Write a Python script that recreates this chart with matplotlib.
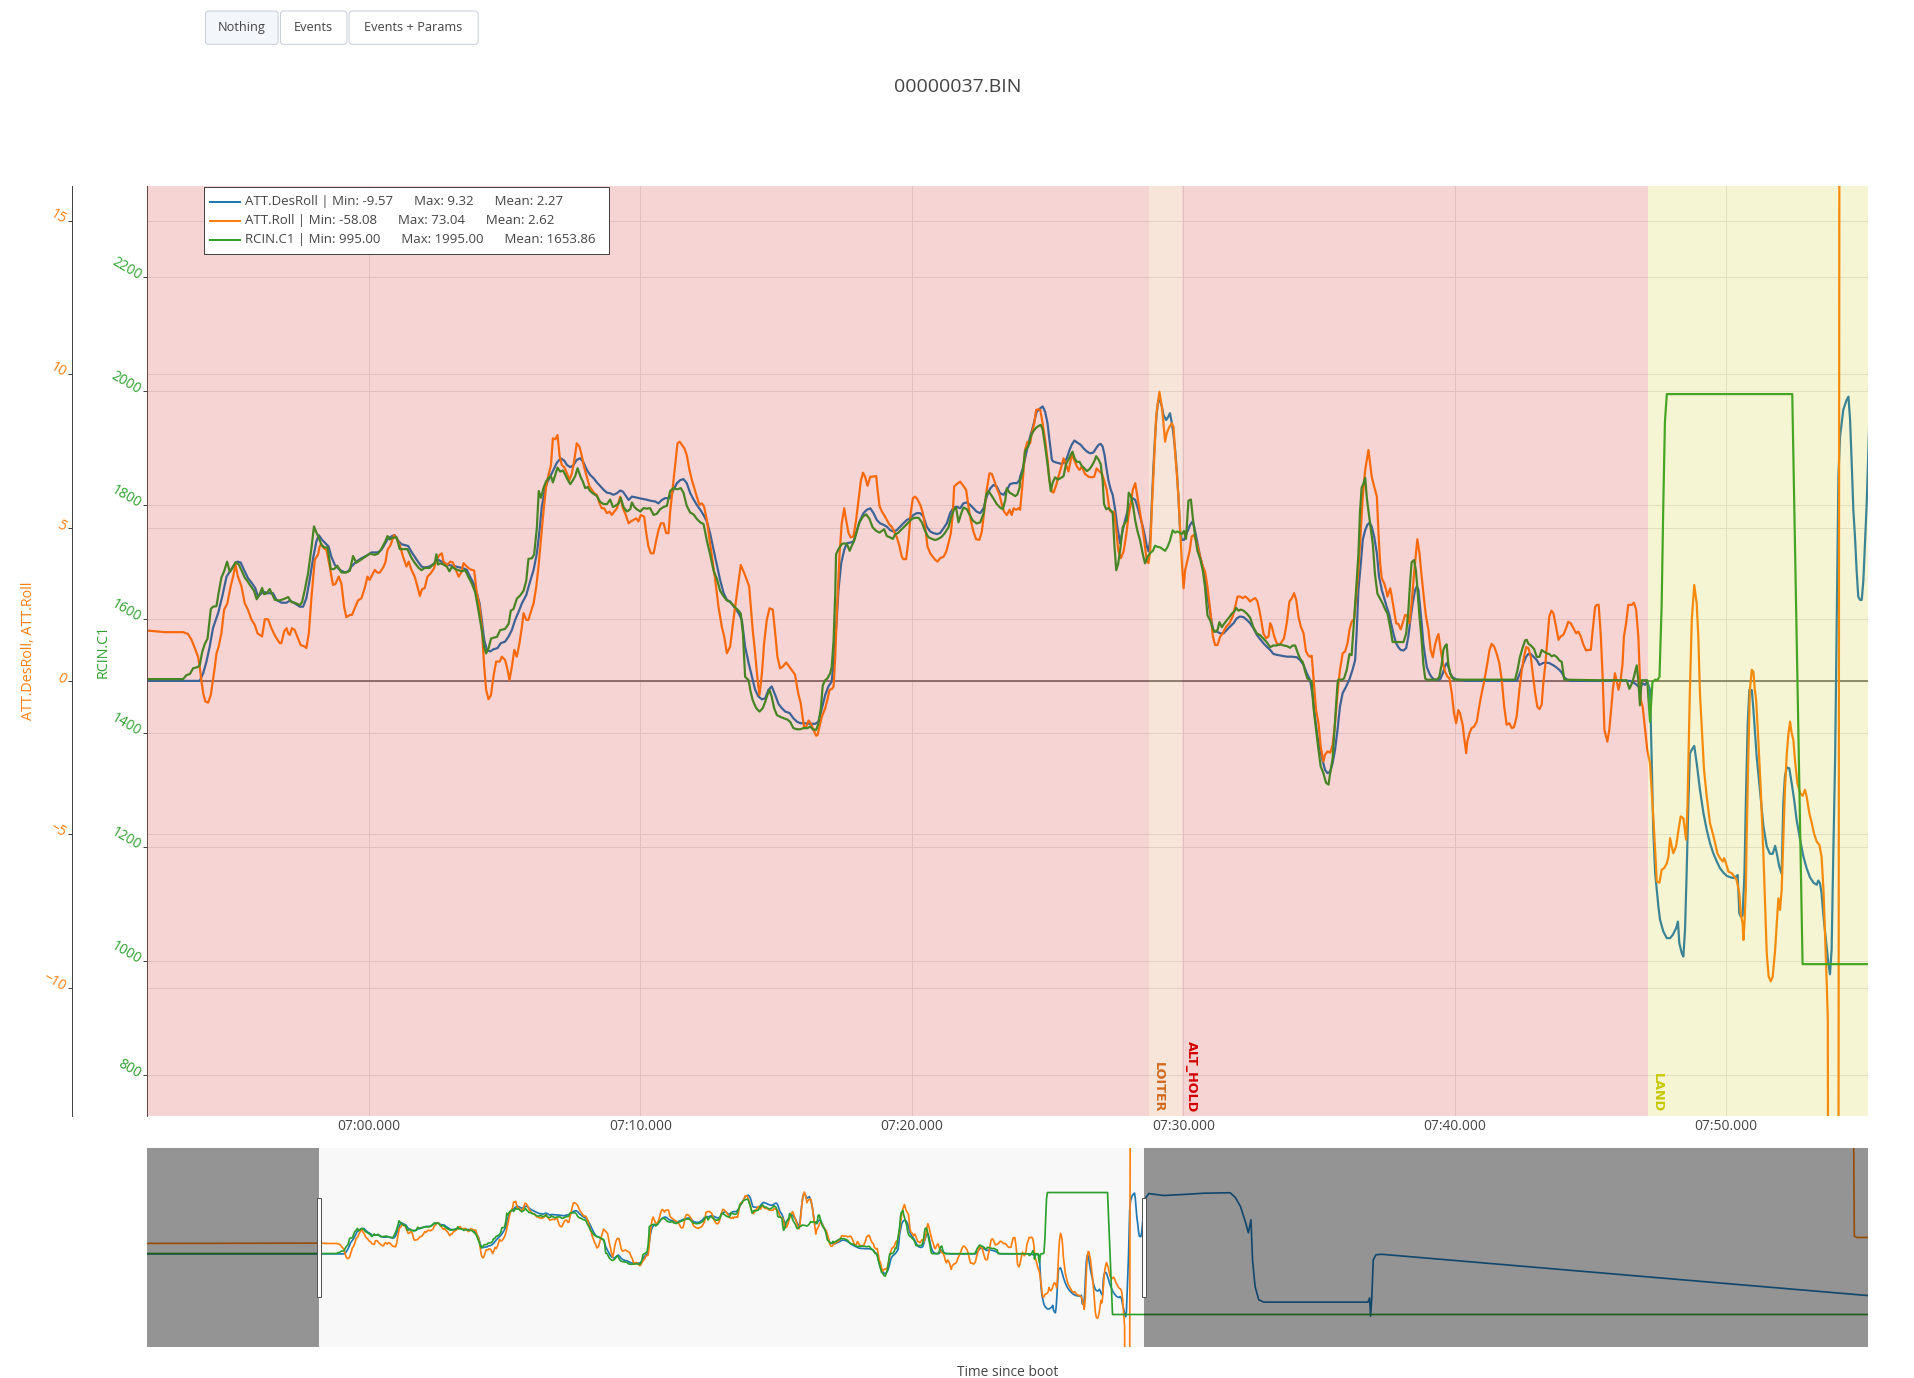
import matplotlib
matplotlib.use("Agg")
import matplotlib.pyplot as plt
import matplotlib.transforms as mtransforms
from matplotlib.lines import Line2D
from matplotlib.patches import Rectangle, FancyBboxPatch
from matplotlib.ticker import FuncFormatter

plt.rcParams['font.family'] = ['Open Sans', 'DejaVu Sans']

# ---------------- data (time since boot in s) ----------------
DES_ROLL_POINTS = [
    (398.61, 0.0), (411.87, 0.0), (413.77, 0.0), (413.90, 0.25), (414.02, 0.63), (414.14, 1.12), (414.26, 1.72),
    (414.45, 2.21), (414.60, 2.75), (414.76, 3.40), (414.88, 3.57), (415.04, 3.78), (415.16, 3.89), (415.28, 3.86),
    (415.43, 3.57), (415.55, 3.35), (415.70, 3.18), (415.82, 3.02), (415.92, 2.75), (416.11, 2.91), (416.29, 2.86),
    (416.47, 2.86), (416.60, 2.64), (416.78, 2.55), (416.97, 2.55), (417.09, 2.62), (417.27, 2.53), (417.46, 2.42),
    (417.58, 2.42), (417.70, 2.70), (417.82, 3.29), (417.95, 4.01), (418.07, 4.55), (418.16, 4.75), (418.28, 4.60),
    (418.40, 4.49), (418.52, 4.38), (418.62, 4.05), (418.75, 3.78), (418.93, 3.62), (419.11, 3.54), (419.24, 3.57),
    (419.36, 3.73), (419.54, 3.89), (419.73, 4.00), (419.91, 4.08), (420.10, 4.19), (420.32, 4.19), (420.46, 4.27),
    (420.59, 4.46), (420.71, 4.65), (420.83, 4.71), (420.95, 4.76), (421.08, 4.57), (421.20, 4.46), (421.32, 4.43),
    (421.45, 4.40), (421.57, 4.21), (421.69, 4.05), (421.81, 3.89), (421.94, 3.73), (422.06, 3.70), (422.24, 3.73),
    (422.43, 3.84), (422.55, 3.95), (422.75, 3.86), (422.94, 3.78), (423.12, 3.75), (423.31, 3.71), (423.49, 3.67),
    (423.61, 3.62), (423.73, 3.40), (423.86, 3.18), (423.98, 2.86), (424.08, 2.53), (424.16, 1.99), (424.25, 1.34),
    (424.35, 1.01), (424.47, 0.96), (424.59, 1.03), (424.74, 1.07), (424.86, 1.23), (425.02, 1.28), (425.15, 1.45),
    (425.27, 1.66), (425.39, 1.99), (425.52, 2.26), (425.64, 2.53), (425.80, 2.80), (425.94, 3.24), (426.07, 3.62),
    (426.19, 4.16), (426.29, 4.92), (426.37, 5.68), (426.46, 6.12), (426.56, 6.45), (426.68, 6.66), (426.80, 6.88),
    (426.93, 7.12), (427.07, 7.26), (427.20, 7.18), (427.30, 7.04), (427.42, 6.97), (427.54, 7.04), (427.66, 7.21),
    (427.79, 7.26), (427.91, 7.12), (428.03, 6.88), (428.15, 6.72), (428.28, 6.61), (428.40, 6.47), (428.52, 6.36),
    (428.65, 6.23), (428.77, 6.14), (428.89, 6.12), (429.01, 6.07), (429.14, 6.12), (429.26, 6.21), (429.36, 6.17),
    (429.44, 6.07), (429.57, 5.90), (429.69, 6.01), (429.81, 5.99), (430.00, 5.95), (430.18, 5.92), (430.36, 5.88),
    (430.55, 5.85), (430.67, 5.79), (430.79, 5.90), (430.92, 5.96), (431.10, 5.96), (431.22, 6.23), (431.35, 6.45),
    (431.47, 6.55), (431.59, 6.58), (431.71, 6.45), (431.84, 6.12), (431.96, 5.92), (432.08, 5.74), (432.21, 5.58),
    (432.33, 5.41), (432.45, 5.20), (432.57, 4.82), (432.70, 4.27), (432.82, 3.78), (432.94, 3.29), (433.07, 2.86),
    (433.19, 2.64), (433.31, 2.59), (433.49, 2.37), (433.62, 2.21), (433.74, 1.99), (433.86, 1.12), (433.99, 0.58),
    (434.11, 0.14), (434.23, -0.29), (434.35, -0.51), (434.48, -0.60), (434.60, -0.57), (434.72, -0.29), (434.84, -0.18),
    (434.97, -0.46), (435.09, -0.75), (435.21, -0.89), (435.34, -1.00), (435.50, -1.05), (435.64, -1.22), (435.77, -1.33),
    (435.89, -1.38), (436.07, -1.38), (436.26, -1.40), (436.44, -1.40), (436.56, -1.33), (436.69, -0.89), (436.81, -0.46),
    (436.93, -0.18), (437.05, -0.02), (437.14, 0.79), (437.21, 1.66), (437.30, 2.97), (437.40, 3.84), (437.51, 4.27),
    (437.61, 4.49), (437.73, 4.51), (437.85, 4.54), (437.98, 4.92), (438.10, 5.25), (438.22, 5.47), (438.34, 5.58),
    (438.47, 5.63), (438.59, 5.47), (438.71, 5.25), (438.83, 5.14), (438.96, 5.09), (439.08, 5.03), (439.20, 4.92),
    (439.33, 4.87), (439.45, 4.92), (439.57, 5.03), (439.69, 5.14), (439.82, 5.25), (439.94, 5.30), (440.06, 5.41),
    (440.18, 5.47), (440.31, 5.47), (440.43, 5.36), (440.55, 5.03), (440.68, 4.87), (440.80, 4.82), (440.92, 4.79),
    (441.04, 4.82), (441.17, 4.98), (441.29, 5.14), (441.41, 5.47), (441.54, 5.66), (441.66, 5.68), (441.78, 5.63),
    (441.90, 5.79), (442.03, 5.82), (442.15, 5.74), (442.27, 5.63), (442.39, 5.52), (442.52, 5.47), (442.64, 5.63),
    (442.76, 6.01), (442.89, 6.28), (443.01, 6.39), (443.13, 6.34), (443.25, 6.12), (443.38, 6.07), (443.50, 6.23),
    (443.62, 6.42), (443.75, 6.45), (443.87, 6.45), (443.97, 6.55), (443.99, 6.66), (444.11, 6.99), (444.24, 7.53),
    (444.36, 7.97), (444.48, 8.35), (444.60, 8.78), (444.73, 8.89), (444.82, 8.95), (444.91, 8.78), (445.00, 8.40),
    (445.07, 7.86), (445.16, 7.21), (445.22, 7.15), (445.34, 7.12), (445.49, 7.08), (445.59, 7.10), (445.71, 7.26),
    (445.81, 7.53), (445.89, 7.70), (445.99, 7.84), (446.10, 7.77), (446.22, 7.70), (446.32, 7.59), (446.45, 7.48),
    (446.57, 7.42), (446.69, 7.45), (446.79, 7.59), (446.88, 7.70), (446.96, 7.73), (447.03, 7.64), (447.10, 7.37),
    (447.16, 6.99), (447.24, 6.55), (447.33, 6.23), (447.40, 6.07), (447.49, 5.58), (447.57, 5.03), (447.67, 4.49),
    (447.77, 4.92), (447.86, 5.25), (447.94, 5.52), (448.04, 5.74), (448.14, 5.96), (448.23, 5.90), (448.31, 5.68),
    (448.41, 5.36), (448.51, 5.03), (448.59, 4.71), (448.66, 4.38), (448.72, 4.22), (448.78, 4.60), (448.84, 5.79),
    (448.90, 6.99), (448.96, 7.97), (449.02, 8.73), (449.08, 9.16), (449.15, 9.11), (449.21, 8.95), (449.27, 8.67),
    (449.37, 8.51), (449.45, 8.62), (449.51, 8.73), (449.58, 8.40), (449.64, 8.02), (449.70, 7.53), (449.76, 6.88),
    (449.82, 6.01), (449.88, 4.92), (449.94, 4.60), (450.03, 4.60), (450.13, 4.82), (450.25, 5.09), (450.34, 5.20),
    (450.40, 5.03), (450.50, 4.60), (450.62, 4.05), (450.72, 3.73), (450.80, 3.40), (450.89, 2.75), (450.99, 2.21),
    (451.11, 1.61), (451.23, 1.61), (451.36, 1.55), (451.48, 1.55), (451.60, 1.66), (451.72, 1.77), (451.85, 1.88),
    (451.97, 2.04), (452.09, 2.10), (452.22, 2.08), (452.34, 1.99), (452.46, 1.88), (452.58, 1.72), (452.71, 1.50),
    (452.83, 1.36), (452.95, 1.23), (453.07, 1.12), (453.20, 1.01), (453.32, 0.88), (453.44, 0.85), (453.63, 0.82),
    (453.81, 0.79), (454.00, 0.79), (454.18, 0.77), (454.30, 0.68), (454.43, 0.52), (454.55, 0.25), (454.67, 0.03),
    (454.77, -0.51), (454.85, -1.16), (454.94, -1.82), (455.04, -2.25), (455.14, -2.63), (455.22, -2.90), (455.31, -3.01),
    (455.41, -2.96), (455.50, -2.68), (455.59, -2.25), (455.68, -1.60), (455.77, -0.84), (455.87, -0.40), (456.00, -0.18),
    (456.12, 0.05), (456.24, 0.38), (456.33, 0.68), (456.39, 1.66), (456.45, 2.97), (456.54, 3.84), (456.61, 4.60),
    (456.70, 4.92), (456.78, 5.09), (456.86, 5.16), (456.94, 5.03), (457.03, 4.71), (457.13, 4.16), (457.21, 3.40),
    (457.31, 2.97), (457.40, 2.70), (457.49, 2.42), (457.59, 2.15), (457.68, 1.77), (457.76, 1.47), (457.84, 1.23),
    (457.92, 1.10), (458.01, 1.01), (458.11, 0.99), (458.21, 1.07), (458.29, 1.45), (458.38, 2.10), (458.45, 2.53),
    (458.54, 2.97), (458.60, 3.08), (458.66, 2.97), (458.72, 2.42), (458.78, 1.88), (458.84, 1.23), (458.91, 0.79),
    (458.97, 0.45), (459.07, 0.23), (459.15, 0.12), (459.24, 0.05), (459.34, 0.03), (459.46, 0.05), (459.56, 0.25),
    (459.64, 0.49), (459.70, 0.58), (459.76, 0.47), (459.83, 0.25), (459.92, 0.12), (460.05, 0.05), (460.19, 0.03),
    (460.44, 0.0), (462.28, 0.0), (462.40, 0.25), (462.53, 0.58), (462.63, 0.79), (462.71, 0.88), (462.80, 0.88),
    (462.90, 0.79), (463.02, 0.68), (463.12, 0.52), (463.24, 0.58), (463.36, 0.60), (463.48, 0.58), (463.61, 0.52),
    (463.73, 0.45), (463.85, 0.36), (463.94, 0.27), (464.03, 0.12), (464.12, 0.05), (464.25, 0.0), (466.45, 0.0),
    (466.58, -0.05), (466.70, -0.13), (466.82, -0.24), (466.92, -0.08), (467.01, -0.13), (467.09, -0.02), (467.19, -0.29),
    (467.25, -2.47), (467.31, -4.86), (467.38, -6.27), (467.44, -6.82), (467.50, -7.36), (467.56, -7.79), (467.68, -8.17),
    (467.81, -8.39), (467.93, -8.39), (468.03, -8.28), (468.15, -8.07), (468.22, -7.85), (468.27, -8.55), (468.36, -8.88),
    (468.42, -8.99), (468.48, -8.12), (468.54, -6.27), (468.60, -4.10), (468.66, -2.36), (468.76, -2.20), (468.82, -2.12),
    (468.91, -2.68), (469.03, -3.55), (469.16, -4.32), (469.28, -4.86), (469.40, -5.29), (469.52, -5.62), (469.65, -5.89),
    (469.77, -6.11), (469.89, -6.25), (470.02, -6.36), (470.14, -6.40), (470.26, -6.43), (470.36, -6.38), (470.42, -6.33),
    (470.48, -7.58), (470.53, -7.68), (470.60, -7.66), (470.67, -6.27), (470.73, -3.55), (470.79, -1.38), (470.85, -0.29),
    (470.94, -0.30), (471.00, -0.95), (471.12, -2.47), (471.24, -3.55), (471.37, -4.75), (471.49, -5.40), (471.61, -5.64),
    (471.71, -5.64), (471.80, -5.38), (471.86, -5.62), (471.95, -6.05), (472.04, -6.29), (472.10, -3.99), (472.16, -3.12),
    (472.23, -2.82), (472.32, -2.85), (472.41, -3.34), (472.50, -3.88), (472.59, -4.53), (472.72, -5.18), (472.84, -5.73),
    (472.96, -6.11), (473.08, -6.40), (473.21, -6.58), (473.33, -6.65), (473.39, -6.51), (473.45, -6.60), (473.51, -6.92),
    (473.58, -7.68), (473.67, -8.45), (473.76, -9.21), (473.82, -9.57), (473.88, -8.77), (473.94, -5.73), (474.01, -2.47),
    (474.04, -0.29), (474.09, 3.62), (474.13, 6.66), (474.19, 7.97), (474.31, 8.84), (474.43, 9.16), (474.50, 9.27),
    (474.56, 8.51), (474.62, 7.10), (474.68, 5.58), (474.74, 4.71), (474.80, 3.62), (474.86, 2.75), (474.93, 2.64),
    (474.99, 2.64), (475.05, 3.29), (475.11, 4.49), (475.17, 5.74), (475.26, 8.27), (475.60, 9.20), (476.73, 8.90),
    (478.65, 9.10), (479.85, 9.25), (481.85, 9.32), (482.25, 8.60), (482.65, 7.20), (483.05, 4.70), (483.25, 3.20),
    (483.45, 5.20), (483.57, -0.90), (483.77, -5.00), (484.05, -7.00), (484.45, -7.35), (492.44, -7.35), (492.57, -6.70),
    (492.64, -9.50), (492.73, -7.00), (492.85, -0.90), (493.05, -0.15), (493.45, -0.05), (530.87, -6.35),
]

ROLL_POINTS = [
    (398.61, 1.60), (411.87, 1.64), (412.48, 1.59), (413.16, 1.59), (413.34, 1.53), (413.47, 1.34), (413.59, 1.07),
    (413.71, 0.79), (413.77, 0.47), (413.83, 0.03), (413.90, -0.40), (413.98, -0.67), (414.08, -0.71), (414.18, -0.46),
    (414.26, 0.03), (414.33, 0.47), (414.39, 0.90), (414.47, 1.12), (414.57, 1.55), (414.67, 2.32), (414.79, 2.53),
    (414.91, 3.08), (415.00, 3.40), (415.09, 3.78), (415.18, 3.40), (415.31, 3.08), (415.43, 2.53), (415.55, 2.32),
    (415.68, 1.99), (415.80, 1.83), (415.90, 1.55), (416.07, 1.45), (416.17, 2.01), (416.29, 2.01), (416.41, 1.72),
    (416.56, 1.45), (416.72, 1.23), (416.78, 1.23), (416.88, 1.61), (416.97, 1.72), (417.03, 1.55), (417.09, 1.50),
    (417.17, 1.72), (417.27, 1.66), (417.39, 1.39), (417.49, 1.17), (417.64, 1.12), (417.70, 1.07), (417.79, 1.55),
    (417.89, 2.75), (418.01, 3.95), (418.13, 4.12), (418.19, 4.38), (418.25, 4.47), (418.34, 4.33), (418.44, 4.27),
    (418.56, 3.73), (418.68, 3.13), (418.77, 3.16), (418.89, 3.40), (418.99, 3.18), (419.09, 2.42), (419.17, 2.08),
    (419.30, 2.15), (419.38, 2.15), (419.48, 2.37), (419.60, 2.62), (419.73, 2.70), (419.85, 3.03), (419.95, 3.40),
    (420.03, 3.29), (420.12, 3.45), (420.22, 3.62), (420.32, 3.53), (420.40, 3.53), (420.53, 3.70), (420.61, 3.86),
    (420.69, 4.27), (420.80, 4.43), (420.93, 4.76), (421.02, 4.65), (421.14, 4.43), (421.26, 4.05), (421.39, 3.73),
    (421.47, 3.89), (421.57, 3.62), (421.69, 3.40), (421.79, 3.08), (421.88, 2.77), (421.96, 2.99), (422.06, 3.03),
    (422.16, 3.40), (422.28, 3.51), (422.40, 3.67), (422.49, 3.95), (422.61, 4.11), (422.69, 4.16), (422.75, 3.89),
    (422.88, 3.78), (423.00, 3.89), (423.10, 3.86), (423.18, 3.67), (423.31, 3.40), (423.39, 3.51), (423.49, 3.84),
    (423.61, 3.73), (423.73, 3.64), (423.88, 3.60), (423.98, 2.86), (424.08, 2.42), (424.16, 1.77), (424.25, 0.47),
    (424.32, -0.29), (424.41, -0.60), (424.50, -0.46), (424.59, 0.14), (424.69, 0.63), (424.82, 0.63), (424.90, 0.79),
    (425.02, 0.68), (425.11, 0.36), (425.18, 0.03), (425.27, 0.47), (425.36, 1.01), (425.45, 0.79), (425.55, 1.23),
    (425.64, 1.77), (425.70, 2.21), (425.80, 1.99), (425.88, 1.99), (425.97, 2.26), (426.07, 2.53), (426.17, 3.08),
    (426.25, 3.73), (426.34, 4.60), (426.44, 5.58), (426.53, 6.34), (426.62, 6.72), (426.71, 7.04), (426.78, 7.91),
    (426.87, 7.88), (426.95, 8.02), (427.03, 7.32), (427.11, 7.04), (427.20, 6.97), (427.30, 6.77), (427.39, 6.55),
    (427.48, 6.77), (427.57, 7.21), (427.66, 7.75), (427.76, 7.64), (427.85, 7.32), (427.93, 6.97), (428.03, 6.66),
    (428.13, 6.34), (428.22, 6.23), (428.30, 6.12), (428.40, 6.07), (428.50, 5.79), (428.58, 5.63), (428.67, 5.63),
    (428.77, 5.47), (428.87, 5.52), (428.95, 5.41), (429.04, 5.52), (429.14, 5.63), (429.26, 6.01), (429.36, 5.63),
    (429.44, 5.47), (429.57, 5.14), (429.65, 5.20), (429.75, 5.25), (429.85, 5.30), (429.93, 5.20), (430.02, 5.41),
    (430.14, 5.36), (430.22, 4.82), (430.30, 4.38), (430.39, 4.16), (430.49, 4.16), (430.59, 4.60), (430.67, 4.92),
    (430.76, 5.14), (430.86, 5.14), (430.95, 4.82), (431.04, 4.82), (431.10, 5.52), (431.20, 6.34), (431.29, 7.10),
    (431.37, 7.75), (431.45, 7.80), (431.53, 7.70), (431.62, 7.59), (431.71, 7.37), (431.81, 6.88), (431.90, 6.55),
    (431.99, 6.28), (432.08, 6.01), (432.18, 5.74), (432.27, 5.79), (432.35, 5.68), (432.45, 5.25), (432.55, 4.60),
    (432.64, 4.05), (432.76, 3.29), (432.88, 2.42), (433.00, 1.77), (433.09, 1.45), (433.19, 0.90), (433.31, 1.12),
    (433.43, 1.99), (433.56, 2.86), (433.70, 3.78), (433.83, 3.51), (433.92, 3.29), (434.01, 3.08), (434.07, 2.42),
    (434.14, 1.66), (434.23, 0.90), (434.32, 0.03), (434.39, -0.46), (434.48, 0.25), (434.56, 1.23), (434.66, 1.99),
    (434.76, 2.37), (434.88, 2.32), (434.97, 1.55), (435.05, 0.79), (435.15, 0.41), (435.25, 0.47), (435.37, 0.60),
    (435.50, 0.45), (435.62, 0.30), (435.70, 0.20), (435.77, -0.18), (435.83, -0.46), (435.91, -0.73), (435.99, -1.27),
    (436.04, -1.54), (436.11, -1.49), (436.20, -1.29), (436.28, -1.38), (436.38, -1.60), (436.48, -1.79), (436.53, -1.76),
    (436.60, -1.49), (436.69, -1.16), (436.81, -0.89), (436.89, -0.62), (436.97, -0.29), (437.05, -0.27), (437.12, -0.18),
    (437.18, 0.79), (437.24, 2.21), (437.34, 4.16), (437.42, 5.14), (437.51, 5.63), (437.58, 5.25), (437.67, 4.82),
    (437.75, 4.68), (437.85, 4.71), (437.95, 5.25), (438.04, 5.90), (438.12, 6.50), (438.20, 6.79), (438.28, 6.66),
    (438.37, 6.36), (438.47, 6.66), (438.56, 6.66), (438.69, 6.68), (438.74, 6.23), (438.81, 5.71), (438.90, 5.52),
    (438.98, 5.41), (439.08, 5.25), (439.18, 5.09), (439.26, 5.03), (439.35, 4.87), (439.45, 4.68), (439.55, 4.38),
    (439.63, 4.05), (439.69, 3.97), (439.79, 3.97), (439.88, 4.60), (439.96, 5.47), (440.04, 5.96), (440.12, 6.01),
    (440.21, 5.92), (440.31, 5.74), (440.41, 5.47), (440.49, 5.03), (440.58, 4.38), (440.68, 4.16), (440.77, 4.05),
    (440.86, 3.95), (440.95, 3.89), (441.04, 4.00), (441.17, 4.05), (441.27, 4.22), (441.35, 4.49), (441.44, 4.82),
    (441.51, 5.47), (441.56, 6.34), (441.66, 6.42), (441.78, 6.50), (441.90, 6.36), (442.00, 6.23), (442.09, 5.68),
    (442.17, 5.25), (442.27, 4.87), (442.37, 4.62), (442.49, 4.60), (442.58, 4.87), (442.66, 5.47), (442.76, 6.23),
    (442.86, 6.77), (442.95, 6.75), (443.03, 6.55), (443.13, 6.28), (443.23, 6.07), (443.32, 5.74), (443.40, 5.52),
    (443.50, 5.41), (443.60, 5.58), (443.68, 5.41), (443.75, 5.63), (443.84, 5.58), (443.93, 5.63), (443.99, 5.58),
    (444.09, 6.55), (444.17, 7.53), (444.26, 7.80), (444.36, 7.75), (444.42, 8.08), (444.51, 8.40), (444.58, 8.84),
    (444.67, 8.86), (444.73, 8.84), (444.82, 8.40), (444.91, 7.86), (445.00, 7.21), (445.07, 6.55), (445.16, 6.17),
    (445.22, 6.14), (445.32, 6.39), (445.40, 6.66), (445.49, 6.93), (445.59, 7.26), (445.68, 7.04), (445.77, 6.83),
    (445.83, 7.10), (445.89, 7.37), (445.98, 7.21), (446.08, 6.99), (446.18, 6.88), (446.26, 6.99), (446.38, 6.75),
    (446.51, 6.66), (446.63, 6.64), (446.72, 6.66), (446.81, 6.93), (446.91, 6.83), (447.00, 6.77), (447.08, 6.55),
    (447.18, 6.23), (447.28, 5.58), (447.37, 5.49), (447.45, 5.52), (447.53, 4.92), (447.61, 4.22), (447.70, 4.00),
    (447.80, 4.22), (447.89, 4.71), (447.98, 5.36), (448.07, 5.79), (448.14, 6.23), (448.23, 6.45), (448.31, 6.01),
    (448.41, 5.47), (448.51, 4.92), (448.59, 4.38), (448.66, 3.89), (448.72, 3.84), (448.78, 4.22), (448.84, 5.58),
    (448.93, 7.32), (449.00, 8.62), (449.06, 9.05), (449.12, 9.43), (449.21, 8.95), (449.27, 8.40), (449.33, 7.80),
    (449.39, 8.08), (449.49, 8.29), (449.58, 8.40), (449.64, 8.29), (449.70, 7.42), (449.76, 6.77), (449.82, 6.01),
    (449.88, 5.03), (449.94, 3.95), (450.01, 3.02), (450.07, 3.62), (450.13, 3.84), (450.23, 4.22), (450.31, 4.71),
    (450.40, 4.76), (450.50, 4.49), (450.62, 4.05), (450.72, 3.73), (450.80, 3.57), (450.89, 3.08), (450.99, 2.32),
    (451.09, 1.45), (451.17, 1.17), (451.26, 1.17), (451.36, 1.45), (451.45, 1.55), (451.58, 1.77), (451.70, 1.88),
    (451.82, 2.10), (451.91, 2.42), (452.00, 2.75), (452.09, 2.75), (452.19, 2.70), (452.28, 2.75), (452.36, 2.70),
    (452.46, 2.59), (452.56, 2.66), (452.65, 2.70), (452.73, 2.59), (452.80, 2.32), (452.89, 1.88), (452.95, 1.55),
    (453.05, 1.39), (453.14, 1.45), (453.20, 1.88), (453.26, 1.77), (453.35, 1.45), (453.44, 1.23), (453.54, 1.17),
    (453.63, 1.28), (453.71, 1.39), (453.81, 1.88), (453.91, 2.59), (454.00, 2.70), (454.08, 2.86), (454.16, 2.64),
    (454.24, 2.10), (454.33, 1.77), (454.43, 1.55), (454.52, 0.96), (454.61, 0.82), (454.67, 0.79), (454.73, 0.82),
    (454.79, 0.14), (454.89, -0.95), (454.98, -1.38), (455.06, -2.14), (455.16, -2.63), (455.22, -2.41), (455.31, -2.30),
    (455.41, -2.34), (455.50, -2.09), (455.59, -1.38), (455.68, -0.40), (455.77, 0.36), (455.87, 0.90), (455.96, 0.96),
    (456.05, 1.23), (456.12, 1.66), (456.20, 1.93), (456.29, 2.01), (456.36, 2.64), (456.45, 3.62), (456.54, 4.92),
    (456.61, 6.01), (456.70, 6.88), (456.76, 7.21), (456.82, 7.53), (456.88, 7.10), (456.94, 6.66), (457.03, 6.34),
    (457.13, 6.01), (457.19, 4.82), (457.25, 3.84), (457.31, 3.35), (457.40, 3.18), (457.47, 2.97), (457.52, 2.75),
    (457.62, 3.02), (457.68, 2.75), (457.76, 2.32), (457.84, 1.88), (457.92, 1.86), (458.01, 1.68), (458.08, 1.88),
    (458.17, 2.15), (458.25, 2.12), (458.33, 1.88), (458.41, 2.53), (458.50, 3.51), (458.57, 4.16), (458.62, 4.62),
    (458.70, 4.16), (458.78, 3.40), (458.87, 2.64), (458.94, 2.10), (459.03, 1.66), (459.11, 1.01), (459.19, 0.77),
    (459.27, 1.17), (459.34, 1.39), (459.40, 1.53), (459.48, 1.01), (459.56, 0.58), (459.64, 0.30), (459.73, 0.14),
    (459.80, 0.09), (459.89, -0.40), (459.97, -1.05), (460.05, -1.38), (460.13, -0.95), (460.19, -1.05), (460.29, -1.43),
    (460.34, -1.82), (460.42, -2.36), (460.46, -1.98), (460.54, -1.71), (460.62, -1.54), (460.71, -1.49), (460.81, -1.33),
    (460.91, -0.78), (460.99, -0.40), (461.08, -0.02), (461.18, 0.47), (461.28, 1.01), (461.36, 1.21), (461.45, 1.12),
    (461.54, 0.90), (461.64, 0.58), (461.73, 0.03), (461.82, -0.84), (461.91, -1.43), (462.01, -1.38), (462.10, -1.54),
    (462.18, -1.51), (462.28, -1.16), (462.38, -0.29), (462.47, 0.36), (462.55, 0.79), (462.63, 1.10), (462.71, 1.07),
    (462.80, 0.79), (462.87, 0.25), (462.96, -0.40), (463.04, -0.84), (463.12, -0.92), (463.20, -0.78), (463.26, -0.08),
    (463.34, 0.58), (463.41, 1.34), (463.48, 2.10), (463.56, 2.29), (463.63, 2.21), (463.73, 1.77), (463.82, 1.34),
    (463.90, 1.45), (464.00, 1.50), (464.10, 1.72), (464.18, 1.93), (464.27, 1.88), (464.37, 1.72), (464.47, 1.55),
    (464.55, 1.61), (464.64, 1.45), (464.74, 1.17), (464.84, 0.99), (464.92, 1.01), (465.01, 1.01), (465.08, 1.66),
    (465.17, 2.42), (465.23, 2.48), (465.30, 2.48), (465.38, 1.45), (465.45, 0.03), (465.51, -1.60), (465.62, -1.98),
    (465.69, -1.60), (465.78, -0.73), (465.82, -0.29), (465.90, 0.25), (466.03, -0.29), (466.11, 0.03), (466.18, 0.57),
    (466.23, 1.45), (466.31, 1.88), (466.39, 2.48), (466.52, 2.48), (466.60, 2.55), (466.68, 2.32), (466.76, 1.45),
    (466.85, -0.62), (466.92, -0.84), (467.01, -1.60), (467.09, -2.25), (467.19, -2.68), (467.29, -4.10), (467.38, -5.51),
    (467.44, -6.54), (467.54, -6.58), (467.62, -6.16), (467.71, -6.11), (467.81, -5.95), (467.87, -5.73), (467.93, -5.13),
    (467.99, -5.40), (468.05, -5.62), (468.15, -5.40), (468.24, -4.86), (468.32, -4.42), (468.42, -4.48), (468.52, -5.18),
    (468.57, -4.10), (468.62, -1.92), (468.66, -0.29), (468.73, 1.99), (468.82, 3.13), (468.91, 2.53), (468.97, 1.45),
    (469.03, -0.40), (469.09, -1.38), (469.18, -2.90), (469.28, -3.77), (469.40, -4.64), (469.50, -4.97), (469.59, -5.29),
    (469.67, -5.62), (469.77, -5.78), (469.87, -5.89), (469.92, -5.78), (469.99, -5.95), (470.08, -6.22), (470.20, -6.27),
    (470.29, -6.38), (470.38, -6.49), (470.48, -6.92), (470.53, -7.58), (470.60, -7.90), (470.63, -8.45), (470.67, -7.90),
    (470.72, -6.82), (470.75, -5.18), (470.81, -2.47), (470.87, -0.29), (470.94, 0.36), (471.00, 0.30), (471.05, -0.29),
    (471.10, -0.62), (471.18, -1.92), (471.27, -3.55), (471.37, -5.73), (471.43, -7.36), (471.49, -8.88), (471.56, -9.64),
    (471.64, -9.80), (471.71, -9.64), (471.80, -8.77), (471.86, -7.90), (471.92, -7.09), (471.98, -7.47), (472.04, -6.82),
    (472.10, -5.18), (472.16, -3.55), (472.23, -2.36), (472.29, -1.71), (472.35, -1.33), (472.41, -1.71), (472.47, -1.92),
    (472.53, -2.58), (472.62, -3.34), (472.72, -3.66), (472.81, -3.75), (472.90, -3.55), (472.96, -3.77), (473.06, -4.32),
    (473.15, -4.64), (473.23, -4.97), (473.33, -5.24), (473.43, -5.35), (473.51, -5.73), (473.58, -6.82), (473.64, -8.34),
    (473.70, -9.86), (473.74, -11.05), (473.82, -58.08), (474.10, -50.00), (474.22, 73.04), (500.00, 65.00),
    (529.62, 60.00), (529.82, 2.70), (530.02, 2.50), (530.87, 2.50),
]

RCIN_C1_POINTS = [
    (398.61, 1495), (411.87, 1495), (413.16, 1495), (413.28, 1502), (413.41, 1504), (413.53, 1514), (413.69, 1516),
    (413.77, 1519), (413.86, 1542), (413.96, 1557), (414.06, 1566), (414.18, 1618), (414.26, 1622), (414.39, 1623),
    (414.47, 1647), (414.57, 1673), (414.67, 1684), (414.78, 1701), (414.88, 1683), (414.98, 1690), (415.09, 1700),
    (415.21, 1696), (415.33, 1684), (415.43, 1673), (415.53, 1667), (415.61, 1661), (415.77, 1650), (415.87, 1635),
    (415.98, 1644), (416.07, 1655), (416.14, 1644), (416.23, 1645), (416.35, 1653), (416.44, 1644), (416.54, 1634),
    (416.72, 1633), (416.90, 1636), (417.03, 1639), (417.15, 1630), (417.27, 1629), (417.46, 1625), (417.54, 1630),
    (417.64, 1651), (417.76, 1680), (417.89, 1726), (417.98, 1763), (418.07, 1752), (418.16, 1743), (418.25, 1731),
    (418.35, 1726), (418.48, 1726), (418.60, 1688), (418.72, 1688), (418.84, 1694), (418.99, 1682), (419.17, 1682),
    (419.30, 1685), (419.42, 1711), (419.54, 1699), (419.73, 1705), (419.91, 1711), (420.03, 1715), (420.22, 1713),
    (420.34, 1715), (420.46, 1723), (420.61, 1737), (420.69, 1746), (420.77, 1740), (420.89, 1743), (421.02, 1744),
    (421.14, 1723), (421.32, 1723), (421.42, 1723), (421.57, 1708), (421.69, 1699), (421.84, 1690), (421.94, 1686),
    (422.06, 1690), (422.24, 1690), (422.43, 1699), (422.49, 1714), (422.55, 1696), (422.63, 1698), (422.75, 1696),
    (422.88, 1692), (422.97, 1684), (423.06, 1692), (423.18, 1688), (423.31, 1686), (423.43, 1684), (423.55, 1686),
    (423.67, 1674), (423.80, 1662), (423.92, 1647), (424.04, 1615), (424.16, 1581), (424.25, 1551), (424.32, 1540),
    (424.41, 1549), (424.50, 1566), (424.62, 1568), (424.72, 1569), (424.84, 1581), (425.02, 1583), (425.15, 1592),
    (425.23, 1615), (425.33, 1618), (425.45, 1636), (425.58, 1642), (425.70, 1650), (425.80, 1668), (425.88, 1706),
    (426.01, 1707), (426.09, 1714), (426.19, 1761), (426.26, 1825), (426.34, 1813), (426.44, 1831), (426.53, 1842),
    (426.62, 1848), (426.71, 1851), (426.78, 1840), (426.87, 1854), (426.95, 1866), (427.05, 1859), (427.15, 1861),
    (427.23, 1854), (427.32, 1845), (427.42, 1837), (427.52, 1844), (427.60, 1851), (427.69, 1865), (427.79, 1851),
    (427.88, 1842), (427.97, 1830), (428.06, 1832), (428.15, 1825), (428.28, 1820), (428.40, 1816), (428.52, 1806),
    (428.65, 1802), (428.77, 1802), (428.89, 1810), (428.99, 1797), (429.08, 1799), (429.20, 1803), (429.28, 1813),
    (429.38, 1797), (429.51, 1789), (429.63, 1793), (429.69, 1805), (429.78, 1797), (429.87, 1793), (430.00, 1789),
    (430.12, 1795), (430.24, 1794), (430.36, 1795), (430.49, 1783), (430.61, 1785), (430.73, 1793), (430.86, 1797),
    (430.98, 1799), (431.10, 1825), (431.22, 1830), (431.37, 1828), (431.49, 1830), (431.59, 1822), (431.71, 1799),
    (431.84, 1787), (431.96, 1784), (432.08, 1776), (432.21, 1770), (432.33, 1767), (432.45, 1738), (432.57, 1714),
    (432.70, 1685), (432.82, 1671), (432.94, 1650), (433.07, 1640), (433.19, 1633), (433.31, 1630), (433.49, 1621),
    (433.62, 1615), (433.70, 1610), (433.78, 1575), (433.86, 1499), (433.99, 1493), (434.05, 1476), (434.14, 1458),
    (434.27, 1444), (434.39, 1438), (434.51, 1444), (434.60, 1455), (434.68, 1467), (434.76, 1476), (434.84, 1464),
    (434.93, 1444), (435.03, 1432), (435.15, 1429), (435.30, 1426), (435.42, 1424), (435.52, 1420), (435.64, 1409),
    (435.77, 1407), (435.89, 1407), (436.01, 1409), (436.16, 1409), (436.26, 1412), (436.35, 1407), (436.48, 1406),
    (436.56, 1417), (436.65, 1444), (436.72, 1484), (436.81, 1493), (436.89, 1496), (436.99, 1505), (437.05, 1516),
    (437.12, 1563), (437.18, 1645), (437.21, 1714), (437.30, 1723), (437.42, 1732), (437.51, 1733), (437.61, 1732),
    (437.71, 1720), (437.79, 1729), (437.88, 1738), (437.98, 1755), (438.07, 1770), (438.20, 1780), (438.32, 1784),
    (438.44, 1776), (438.56, 1761), (438.69, 1755), (438.81, 1752), (438.90, 1755), (438.98, 1758), (439.08, 1746),
    (439.18, 1744), (439.30, 1741), (439.39, 1749), (439.51, 1752), (439.63, 1758), (439.76, 1764), (439.88, 1770),
    (440.00, 1776), (440.12, 1778), (440.25, 1778), (440.37, 1770), (440.49, 1755), (440.61, 1744), (440.74, 1741),
    (440.86, 1739), (440.98, 1741), (441.11, 1745), (441.23, 1752), (441.35, 1761), (441.44, 1778), (441.56, 1793),
    (441.63, 1796), (441.72, 1770), (441.81, 1784), (441.90, 1796), (442.03, 1793), (442.12, 1784), (442.25, 1773),
    (442.39, 1768), (442.52, 1770), (442.64, 1785), (442.74, 1819), (442.82, 1825), (442.91, 1819), (443.03, 1810),
    (443.13, 1802), (443.25, 1796), (443.35, 1793), (443.44, 1808), (443.50, 1830), (443.60, 1822), (443.68, 1820),
    (443.81, 1816), (443.89, 1819), (443.97, 1831), (443.99, 1843), (444.09, 1860), (444.17, 1895), (444.30, 1904),
    (444.38, 1921), (444.48, 1930), (444.58, 1936), (444.67, 1939), (444.75, 1941), (444.82, 1933), (444.91, 1904),
    (445.00, 1872), (445.07, 1843), (445.12, 1825), (445.19, 1840), (445.28, 1849), (445.37, 1845), (445.46, 1847),
    (445.59, 1851), (445.68, 1872), (445.77, 1880), (445.86, 1889), (445.92, 1894), (445.99, 1883), (446.08, 1876),
    (446.18, 1876), (446.26, 1869), (446.35, 1865), (446.45, 1860), (446.54, 1863), (446.63, 1869), (446.72, 1877),
    (446.79, 1886), (446.88, 1880), (446.96, 1872), (447.03, 1843), (447.08, 1802), (447.16, 1793), (447.24, 1795),
    (447.33, 1791), (447.40, 1787), (447.46, 1732), (447.53, 1686), (447.60, 1697), (447.67, 1720), (447.77, 1761),
    (447.86, 1770), (447.92, 1773), (447.99, 1822), (448.07, 1816), (448.14, 1802), (448.23, 1773), (448.31, 1755),
    (448.41, 1738), (448.51, 1714), (448.59, 1698), (448.68, 1709), (448.78, 1716), (448.88, 1720), (448.96, 1729),
    (449.05, 1727), (449.15, 1726), (449.24, 1723), (449.33, 1720), (449.42, 1727), (449.51, 1738), (449.61, 1756),
    (449.70, 1752), (449.78, 1754), (449.86, 1752), (449.94, 1749), (450.03, 1755), (450.10, 1741), (450.19, 1808),
    (450.28, 1810), (450.35, 1778), (450.44, 1744), (450.52, 1720), (450.62, 1706), (450.72, 1685), (450.80, 1656),
    (450.89, 1607), (450.99, 1598), (451.09, 1583), (451.17, 1578), (451.26, 1581), (451.33, 1595), (451.42, 1586),
    (451.50, 1592), (451.60, 1598), (451.70, 1604), (451.79, 1610), (451.87, 1613), (451.95, 1620), (452.03, 1615),
    (452.12, 1617), (452.22, 1615), (452.34, 1610), (452.46, 1603), (452.58, 1586), (452.71, 1575), (452.83, 1572),
    (452.95, 1566), (453.07, 1560), (453.20, 1551), (453.32, 1554), (453.44, 1554), (453.57, 1556), (453.69, 1554),
    (453.81, 1553), (453.93, 1550), (454.03, 1554), (454.12, 1554), (454.20, 1543), (454.30, 1531), (454.40, 1525),
    (454.49, 1508), (454.57, 1496), (454.67, 1493), (454.73, 1490), (454.79, 1447), (454.89, 1406), (454.98, 1371),
    (455.06, 1342), (455.16, 1330), (455.26, 1313), (455.35, 1310), (455.41, 1330), (455.50, 1356), (455.59, 1423),
    (455.68, 1487), (455.71, 1494), (455.84, 1494), (455.92, 1496), (456.02, 1511), (456.12, 1539), (456.20, 1537),
    (456.29, 1598), (456.36, 1650), (456.45, 1714), (456.51, 1790), (456.57, 1831), (456.63, 1837), (456.70, 1848),
    (456.76, 1813), (456.82, 1790), (456.90, 1761), (456.98, 1732), (457.06, 1679), (457.15, 1645), (457.25, 1636),
    (457.35, 1627), (457.43, 1618), (457.52, 1610), (457.62, 1586), (457.71, 1560), (458.11, 1560), (458.21, 1575),
    (458.29, 1615), (458.35, 1662), (458.41, 1700), (458.50, 1704), (458.57, 1685), (458.62, 1656), (458.70, 1604),
    (458.78, 1563), (458.84, 1522), (458.91, 1496), (458.97, 1494), (459.34, 1494), (459.43, 1499), (459.52, 1522),
    (459.58, 1546), (459.64, 1553), (459.70, 1556), (459.76, 1522), (459.83, 1505), (459.89, 1498), (459.97, 1494),
    (462.22, 1494), (462.31, 1511), (462.40, 1534), (462.50, 1550), (462.59, 1563), (462.65, 1564), (462.71, 1557),
    (462.80, 1554), (462.92, 1548), (463.02, 1534), (463.12, 1534), (463.20, 1546), (463.29, 1543), (463.39, 1540),
    (463.48, 1539), (463.57, 1535), (463.66, 1537), (463.75, 1534), (463.85, 1528), (463.94, 1525), (464.03, 1494),
    (465.30, 1493), (466.33, 1493), (466.43, 1478), (466.52, 1487), (466.60, 1499), (466.70, 1519), (466.76, 1493),
    (466.82, 1449), (466.88, 1493), (467.09, 1493), (467.19, 1420), (467.28, 1490), (467.38, 1494), (467.46, 1493),
    (467.54, 1499), (467.62, 1626), (467.68, 1800), (467.74, 1946), (467.81, 1995), (472.43, 1995), (472.81, 995),
    (530.87, 995),
]

des_time, des_roll = map(list, zip(*DES_ROLL_POINTS))
roll_time, roll = map(list, zip(*ROLL_POINTS))
rcin_time, rcin_c1 = map(list, zip(*RCIN_C1_POINTS))

MODE_NAMES = ["ALT_HOLD", "LOITER", "ALT_HOLD", "LAND"]
MODE_STARTS = [398.61, 448.74, 449.97, 467.13]
MODE_COLORS = {"ALT_HOLD": "#d20000", "LOITER": "#d2691e", "LAND": "#c8c800"}

LEGEND_NAMES = ["ATT.DesRoll", "ATT.Roll", "RCIN.C1"]
LEGEND_MIN = ["-9.57", "-58.08", "995.00"]
LEGEND_MAX = ["9.32", "73.04", "1995.00"]
LEGEND_MEAN = ["2.27", "2.62", "1653.86"]

X_VIEW = (411.83, 475.22)
X_FULL = (398.61, 530.87)
X_TICKS = [420, 430, 440, 450, 460, 470]
DEG_LIM = (-14.19, 16.14)
DEG_TICKS = [-10, -5, 0, 5, 10, 15]
RC_LIM = (728.6, 2360.0)
RC_TICKS = [800, 1000, 1200, 1400, 1600, 1800, 2000, 2200]

TITLE = "00000037.BIN"
BUTTONS = ["Nothing", "Events", "Events + Params"]

# ---------------- styling ----------------
BLUE, ORANGE, GREEN = "#1f77b4", "#ff7f0e", "#2ca02c"
TXT = "#444444"
GRID = "#e6e6e6"
W, H = 1915, 1378
PT = 0.72  # points per pixel at dpi 100

fig = plt.figure(figsize=(W / 100, H / 100), dpi=100)
fig.patch.set_facecolor("white")


def fbox(l, t, r, b):
    return [l / W, 1 - b / H, (r - l) / W, (b - t) / H]


def tfmt(t, pos=None):
    return "%02d:%06.3f" % (int(t // 60), t - 60 * int(t // 60))


# ---------------- main plot ----------------
ax = fig.add_axes(fbox(147, 186, 1868, 1116))
axg = ax.twinx()
ax.set_zorder(1)
axg.set_zorder(2)
ax.set_facecolor("white")
axg.patch.set_visible(False)

ax.set_xlim(*X_VIEW)
ax.set_ylim(*DEG_LIM)
axg.set_ylim(*RC_LIM)

ax.set_axisbelow(True)
ax.grid(True, axis="x", color=GRID, lw=1.0 * PT)
ax.grid(True, axis="y", color=GRID, lw=1.0 * PT)
gtrans = mtransforms.blended_transform_factory(ax.transAxes, axg.transData)
for v in RC_TICKS:
    ax.add_line(Line2D([0, 1], [v, v], transform=gtrans, color=GRID, lw=1.0 * PT, zorder=0.6))
ax.axhline(0, color="#666666", lw=1.6 * PT, zorder=1)

ax.plot(des_time, des_roll, color=BLUE, lw=2.2 * PT, zorder=2)
ax.plot(roll_time, roll, color=ORANGE, lw=2.2 * PT, zorder=2.1)
axg.plot(rcin_time, rcin_c1, color=GREEN, lw=2.2 * PT, zorder=2)

# mode shading drawn over the traces
mode_ends = MODE_STARTS[1:] + [X_FULL[1]]
for name, s, e in zip(MODE_NAMES, MODE_STARTS, mode_ends):
    axg.axvspan(s, e, color=MODE_COLORS[name], alpha=0.17, lw=0, zorder=5)
    if X_VIEW[0] < s < X_VIEW[1]:
        axg.annotate(name, xy=(s, 0), xycoords=axg.get_xaxis_transform(),
                     xytext=(9.3 * PT, 4 * PT), textcoords="offset points",
                     rotation=-90, ha="center", va="bottom", color=MODE_COLORS[name],
                     fontsize=12.8 * PT, fontweight="bold", family=["DejaVu Sans"], zorder=6)

# x axis
ax.set_xticks(X_TICKS)
ax.xaxis.set_major_formatter(FuncFormatter(tfmt))
ax.tick_params(axis="x", length=0, pad=3 * PT, labelsize=13.8 * PT, labelcolor=TXT)

# outer (ATT) axis
for s in ["right", "top", "bottom"]:
    ax.spines[s].set_visible(False)
ax.spines["left"].set_position(("outward", 75 * PT))
ax.spines["left"].set_color(TXT)
ax.spines["left"].set_linewidth(1.0 * PT)
ax.set_yticks(DEG_TICKS)
ax.set_yticklabels([("\u2212%d" % -v) if v < 0 else str(v) for v in DEG_TICKS],
                   rotation=-30, rotation_mode="anchor", ha="right", va="center")
ax.tick_params(axis="y", direction="out", length=4 * PT, width=1.0 * PT, color=TXT,
               labelcolor=ORANGE, labelsize=13.8 * PT, pad=3 * PT)

# RCIN axis (at plot edge)
axg.yaxis.set_ticks_position("left")
axg.yaxis.set_label_position("left")
for s in ["right", "top", "bottom"]:
    axg.spines[s].set_visible(False)
axg.spines["left"].set_visible(True)
axg.spines["left"].set_color("#555555")
axg.spines["left"].set_linewidth(1.0 * PT)
axg.set_yticks(RC_TICKS)
axg.set_yticklabels([str(v) for v in RC_TICKS], rotation=-30, rotation_mode="anchor",
                    ha="right", va="center")
axg.tick_params(axis="y", direction="out", length=4 * PT, width=1.0 * PT, color=TXT,
                labelcolor=GREEN, labelsize=13.8 * PT, pad=3 * PT)

fig.text(29 / W, 1 - 651 / H, "ATT.DesRoll, ATT.Roll", rotation=90, color=ORANGE,
         fontsize=14.2 * PT, ha="center", va="center")
fig.text(103 / W, 1 - 651 / H, "RCIN.C1", rotation=90, color=GREEN,
         fontsize=14.2 * PT, ha="center", va="center")

# ---------------- legend ----------------
leg_rect = Rectangle((204.5 / W, 1 - 254.3 / H), 404.9 / W, 67.6 / H, transform=fig.transFigure,
                     facecolor="white", edgecolor=TXT, lw=1.0 * PT, zorder=10)
fig.add_artist(leg_rect)
for i, (nm, c) in enumerate(zip(LEGEND_NAMES, [BLUE, ORANGE, GREEN])):
    y = 1 - (201.7 + 19 * i) / H
    fig.add_artist(Line2D([209.8 / W, 239.7 / W], [y, y], transform=fig.transFigure,
                          color=c, lw=2.0 * PT, zorder=11))
    label = "%s | Min: %s      Max: %s      Mean: %s" % (nm, LEGEND_MIN[i], LEGEND_MAX[i], LEGEND_MEAN[i])
    fig.text(245 / W, y, label, color=TXT, fontsize=13.2 * PT, ha="left", va="center", zorder=11)

# ---------------- range slider ----------------
axs = fig.add_axes(fbox(147, 1148, 1868, 1347))
axs2 = axs.twinx()
axs.set_zorder(1)
axs2.set_zorder(2)
axs.set_facecolor("#f8f8f8")
axs2.patch.set_visible(False)
for a in (axs, axs2):
    a.set_xlim(*X_FULL)
    a.set_xticks([])
    a.set_yticks([])
    for s in a.spines.values():
        s.set_visible(False)
axs.set_ylim(*DEG_LIM)
axs2.set_ylim(*RC_LIM)
axs.plot(des_time, des_roll, color=BLUE, lw=1.7 * PT, zorder=2)
axs.plot(roll_time, roll, color=ORANGE, lw=1.7 * PT, zorder=2.1)
axs2.plot(rcin_time, rcin_c1, color=GREEN, lw=1.7 * PT, zorder=2)
axs2.axvspan(X_FULL[0], X_VIEW[0], color="black", alpha=0.4, lw=0, zorder=5)
axs2.axvspan(X_VIEW[1], X_FULL[1], color="black", alpha=0.4, lw=0, zorder=5)
hw = (X_FULL[1] - X_FULL[0]) * 4.0 / 1721.0
for xe in X_VIEW:
    axs2.add_patch(Rectangle((xe - hw / 2, 0.25), hw, 0.5, transform=axs2.get_xaxis_transform(),
                             facecolor="white", edgecolor="#555555", lw=1.0 * PT, zorder=6))

fig.text(1007.5 / W, 1 - 1372 / H, "Time since boot", color=TXT, fontsize=13.8 * PT,
         ha="center", va="center")

# ---------------- title and buttons ----------------
fig.text(0.5, 1 - 87 / H, TITLE, color=TXT, fontsize=19.5 * PT, ha="center", va="center")

btn_boxes = [(205.4, 278.1), (280.4, 346.9), (349.1, 478.1)]
for i, (name, (l, r)) in enumerate(zip(BUTTONS, btn_boxes)):
    t, b = 11.0, 44.3
    fc = "#f3f6fb" if i == 0 else "white"
    p = FancyBboxPatch((l / 100, (H - b) / 100), (r - l) / 100, (b - t) / 100,
                       boxstyle="round,pad=0,rounding_size=0.03", transform=fig.dpi_scale_trans,
                       facecolor=fc, edgecolor="#c7cdd8", lw=1.0 * PT, zorder=10)
    fig.add_artist(p)
    fig.text((l + r) / 2 / W, 1 - (t + b) / 2 / H, name, color=TXT, fontsize=12.8 * PT,
             ha="center", va="center", zorder=11)

fig.savefig("out.png", dpi=100, facecolor="white")
